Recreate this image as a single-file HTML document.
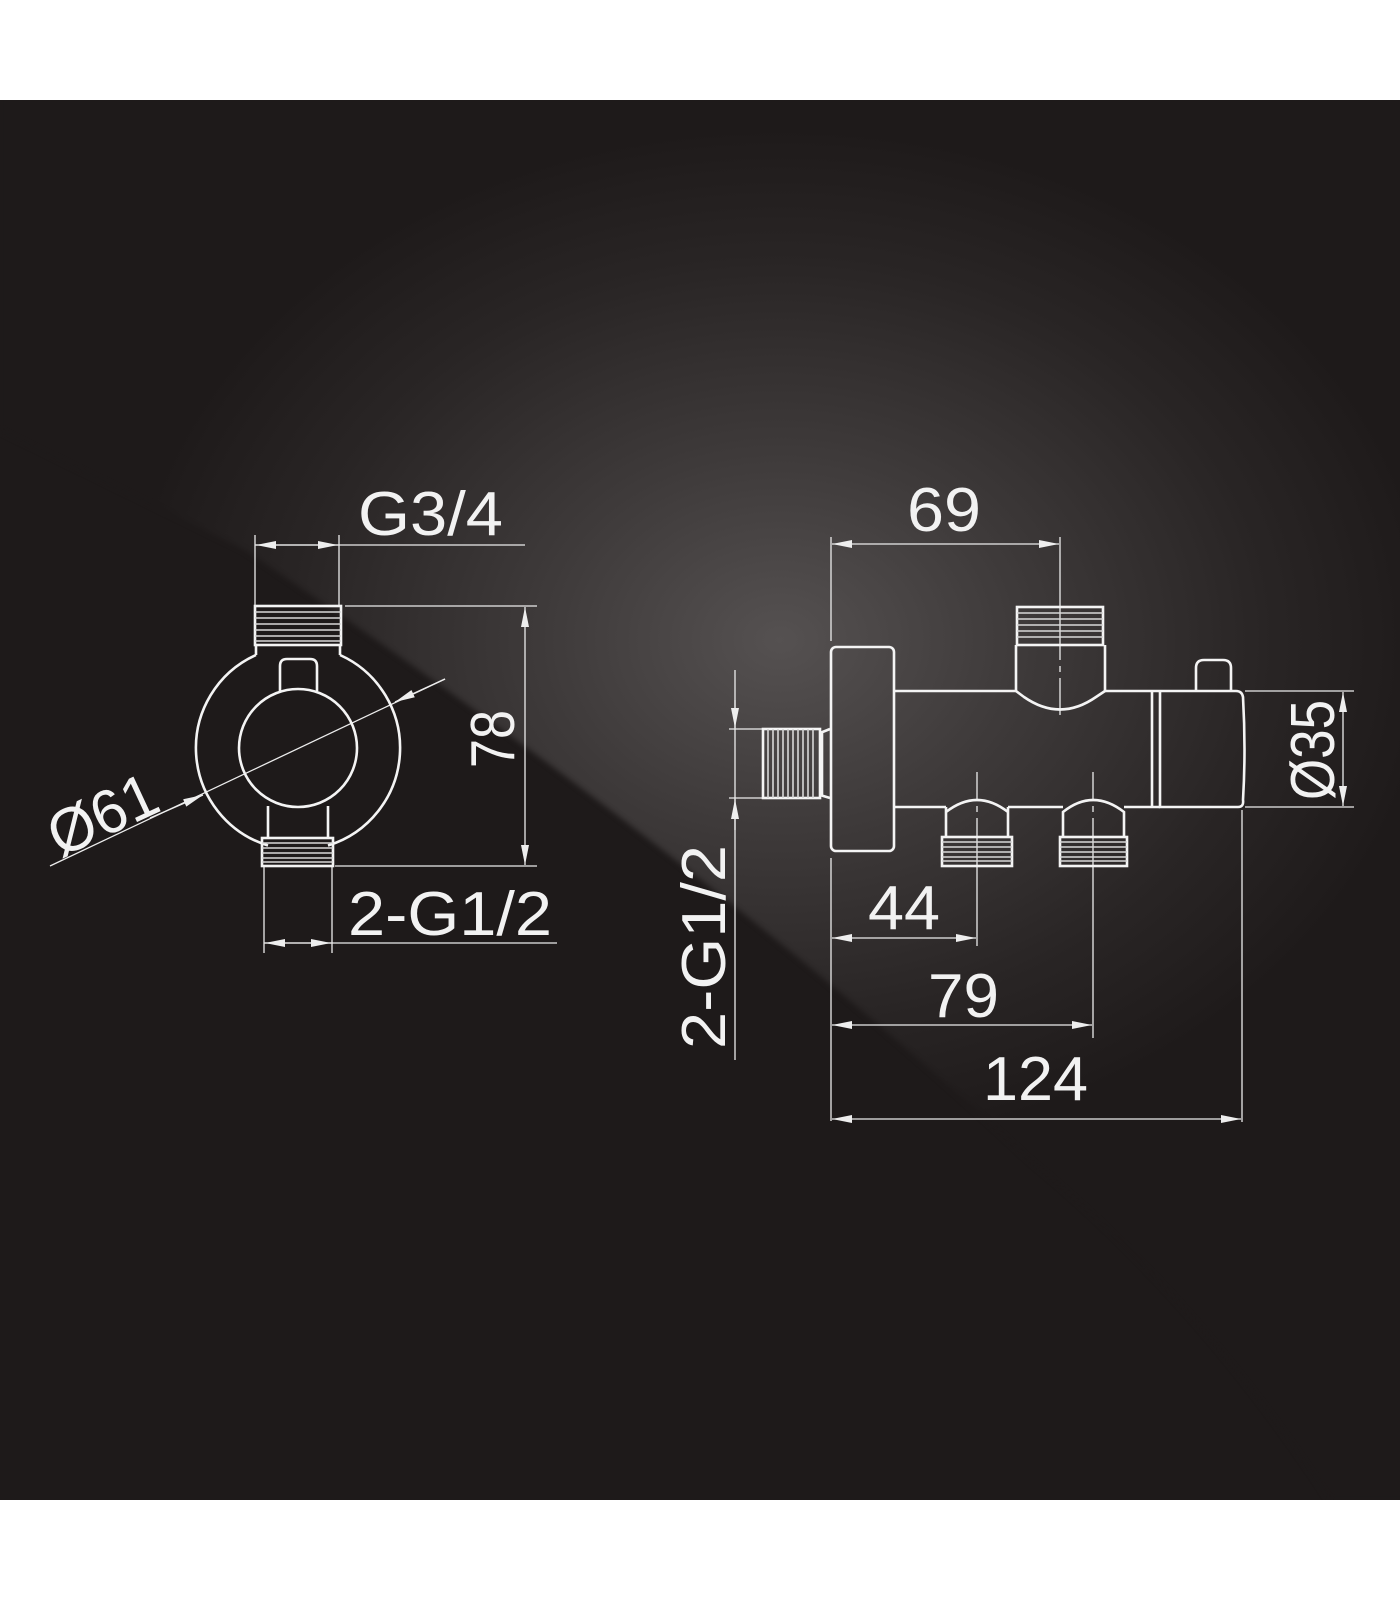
<!DOCTYPE html>
<html><head><meta charset="utf-8"><style>
html,body{margin:0;padding:0;background:#fff;}
svg{display:block;}
text{font-family:"Liberation Sans",sans-serif;fill:#f2f2f2;font-size:62px;}
</style></head><body>
<svg width="1400" height="1600" viewBox="0 0 1400 1600" xmlns="http://www.w3.org/2000/svg">
<defs>
<radialGradient id="g" cx="780" cy="640" r="600" gradientUnits="userSpaceOnUse" gradientTransform="translate(780 640) scale(1.15 0.9) translate(-780 -640)">
<stop offset="0" stop-color="#555151"/>
<stop offset="0.35" stop-color="#3e3a3a"/>
<stop offset="0.7" stop-color="#292525"/>
<stop offset="0.95" stop-color="#1e1a1a"/>
</radialGradient>
<filter id="b" x="-10%" y="-10%" width="120%" height="120%"><feGaussianBlur stdDeviation="3"/></filter>
<mask id="m" maskUnits="userSpaceOnUse" x="0" y="100" width="1400" height="1400">
<path d="M0,60 L1440,60 L1440,1500 L1330,1500 Q1200,1300 1030,1160 Q720,870 245,550 L0,430 Z" fill="#fff" filter="url(#b)"/>
</mask>
<marker id="a" viewBox="0 0 20 8" refX="20" refY="4" markerWidth="20" markerHeight="8" markerUnits="userSpaceOnUse" orient="auto-start-reverse"><path d="M0,0 L20,4 L0,8 Z" fill="#eee"/></marker>
</defs>
<rect x="0" y="100" width="1400" height="1400" fill="#1e1a1a"/>
<rect x="0" y="100" width="1400" height="1400" fill="url(#g)" mask="url(#m)"/>

<g stroke="#ececec" fill="none" stroke-width="1.3">
<line x1="255" y1="535" x2="255" y2="606"/>
<line x1="339" y1="535" x2="339" y2="606"/>
<line x1="255" y1="545" x2="525" y2="545"/>
<line x1="300" y1="545" x2="256" y2="545" marker-end="url(#a)"/>
<line x1="300" y1="545" x2="338" y2="545" marker-end="url(#a)"/>
<line x1="345" y1="606" x2="537" y2="606"/>
<line x1="335" y1="866" x2="537" y2="866"/>
<line x1="525" y1="607" x2="525" y2="865" marker-start="url(#a)" marker-end="url(#a)"/>
<line x1="264" y1="866" x2="264" y2="953"/>
<line x1="332" y1="866" x2="332" y2="953"/>
<line x1="264" y1="943" x2="557" y2="943"/>
<line x1="298" y1="943" x2="265" y2="943" marker-end="url(#a)"/>
<line x1="298" y1="943" x2="331" y2="943" marker-end="url(#a)"/>
<line x1="50" y1="866" x2="445" y2="679"/>
<line x1="150" y1="818" x2="203" y2="795" marker-end="url(#a)"/>
<line x1="445" y1="679" x2="395" y2="702" marker-end="url(#a)"/>
</g>
<g stroke="#f4f4f4" fill="none" stroke-width="2.6">
<path d="M256,645 L256,655 M340,645 L340,655"/>
<path d="M268,806 L268,838 M328,806 L328,838"/>
<path d="M256,655 A102,102 0 0 0 268,845.5 M328,845.5 A102,102 0 0 0 340,655"/>
<circle cx="298" cy="748" r="59"/>
<path d="M280,692 L280,666 Q280,659 287,659 L310,659 Q317,659 317,666 L317,691"/>
<rect x="255" y="606" width="86" height="39"/>
<rect x="262" y="838" width="71" height="28"/>
</g>
<g stroke="#d8d8d8" stroke-width="1.6">
<path d="M255,612 H341 M255,618 H341 M255,624 H341 M255,630 H341 M255,636 H341 M255,641 H341"/>
<path d="M262,843 H333 M262,848 H333 M262,853 H333 M262,858 H333 M262,862 H333"/>
</g>
<text x="358" y="535" textLength="145" lengthAdjust="spacingAndGlyphs">G3/4</text>
<text x="348" y="935" textLength="204" lengthAdjust="spacingAndGlyphs">2-G1/2</text>
<text transform="translate(514,739) rotate(-90)" x="-29" textLength="58" lengthAdjust="spacingAndGlyphs">78</text>
<text transform="translate(60,858) rotate(-25)" textLength="114" lengthAdjust="spacingAndGlyphs">Ø61</text>

<g stroke="#ececec" fill="none" stroke-width="1.3">
<line x1="831" y1="537" x2="831" y2="641"/>
<line x1="831" y1="858" x2="831" y2="1121"/>
<line x1="1060" y1="537" x2="1060" y2="604"/>
<line x1="832" y1="544" x2="1059" y2="544" marker-start="url(#a)" marker-end="url(#a)"/>
<line x1="735" y1="670" x2="735" y2="1060"/>
<line x1="735" y1="700" x2="735" y2="728" marker-end="url(#a)"/>
<line x1="735" y1="830" x2="735" y2="799" marker-end="url(#a)"/>
<line x1="729" y1="729" x2="763" y2="729"/>
<line x1="729" y1="798" x2="763" y2="798"/>
<line x1="1245" y1="691" x2="1354" y2="691"/>
<line x1="1245" y1="807" x2="1354" y2="807"/>
<line x1="1343" y1="692" x2="1343" y2="806" marker-start="url(#a)" marker-end="url(#a)"/>
<line x1="1242" y1="810" x2="1242" y2="1122"/>
<line x1="832" y1="938" x2="976" y2="938" marker-start="url(#a)" marker-end="url(#a)"/>
<line x1="977" y1="866" x2="977" y2="946"/>
<line x1="832" y1="1025" x2="1092" y2="1025" marker-start="url(#a)" marker-end="url(#a)"/>
<line x1="1093" y1="866" x2="1093" y2="1038"/>
<line x1="832" y1="1119" x2="1241" y2="1119" marker-start="url(#a)" marker-end="url(#a)"/>
<path d="M1060,604 V660 M1060,666 V672 M1060,678 V715" />
<path d="M977,772 V800 M977,806 V812 M977,818 V866" />
<path d="M1093,772 V800 M1093,806 V812 M1093,818 V866" />
</g>
<g stroke="#f4f4f4" fill="none" stroke-width="2.6">
<rect x="831" y="647" width="63" height="204" rx="5"/>
<path d="M820,733 L830,729 M820,795 L830,798 M822,733 V795"/>
<path d="M894,691 H1016 V645 M1105,645 V691 H1160 M894,807 H946 M1008,807 H1063 M1124,807 H1160"/>
<path d="M1016,691 L1024,697 Q1060,722 1096,697 L1105,691"/>
<path d="M1152,691 V807 M1160,691 V807 H1238 Q1244,807 1243,800 Q1246,750 1243,697 Q1242,691 1236,691 H1160"/>
<path d="M1196,691 V668 Q1196,660 1204,660 H1223 Q1231,660 1231,668 V691"/>
<path d="M946,837 V812 Q977,788 1008,812 V837 M946,812 L946,807 M1008,812 L1008,807"/>
<path d="M1063,837 V812 Q1093,788 1124,812 V837"/>
<rect x="1017" y="607" width="86" height="38"/>
<rect x="942" y="837" width="70" height="29"/>
<rect x="1060" y="837" width="67" height="29"/>
<rect x="763" y="729" width="57" height="69"/>
</g>
<g stroke="#d8d8d8" stroke-width="1.6">
<path d="M1017,613 H1103 M1017,619 H1103 M1017,625 H1103 M1017,631 H1103 M1017,637 H1103"/>
<path d="M942,842 H1012 M942,847 H1012 M942,852 H1012 M942,857 H1012 M942,861 H1012"/>
<path d="M1060,842 H1127 M1060,847 H1127 M1060,852 H1127 M1060,857 H1127 M1060,861 H1127"/>
<path d="M768,729 V798 M773,729 V798 M778,729 V798 M783,729 V798 M788,729 V798 M793,729 V798 M798,729 V798 M803,729 V798 M808,729 V798 M813,729 V798"/>
</g>
<text x="907" y="531" textLength="74" lengthAdjust="spacingAndGlyphs">69</text>
<text x="868" y="929" textLength="72" lengthAdjust="spacingAndGlyphs">44</text>
<text x="928" y="1017" textLength="71" lengthAdjust="spacingAndGlyphs">79</text>
<text x="983" y="1100" textLength="105" lengthAdjust="spacingAndGlyphs">124</text>
<text transform="translate(725,947) rotate(-90)" x="-102" textLength="204" lengthAdjust="spacingAndGlyphs">2-G1/2</text>
<text transform="translate(1334,750) rotate(-90)" x="-50" textLength="100" lengthAdjust="spacingAndGlyphs">Ø35</text>
</svg>
</body></html>
